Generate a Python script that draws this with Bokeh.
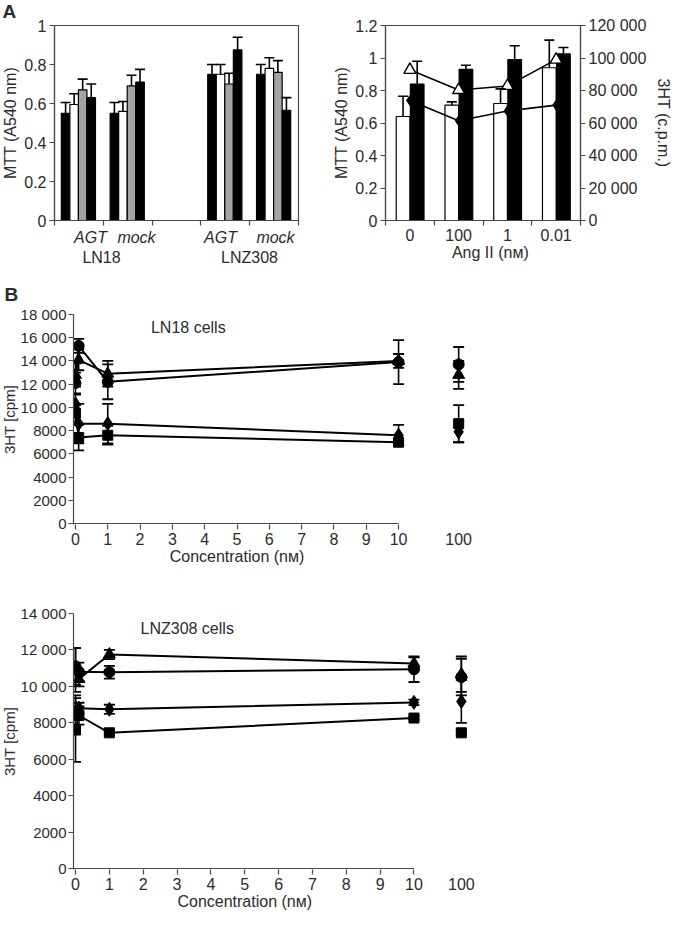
from bokeh.plotting import figure
from bokeh.models import (ColumnDataSource, Range1d, LinearAxis, FixedTicker,
                          Whisker, TeeHead, Title)
from bokeh.layouts import column, row
from bokeh.embed import file_html
from bokeh.resources import INLINE
from bokeh.core.properties import value

FONT = "Liberation Sans"
TXT = "#2b2b2b"
AXC = "#4a4a4a"
FS = "16px"

# ---------------- data: panel A (left) MTT ----------------
a1_groups = ["LN18 AGT", "LN18 mock", "LNZ308 AGT", "LNZ308 mock"]
a1_slot = [0, 1, 3, 4]            # slot index on a 5-slot axis (3rd slot empty)
a1_treat = ["AGT", "mock", "AGT", "mock"]
a1_lines = ["LN18", "LNZ308"]
a1_black1 = [0.55, 0.55, 0.75, 0.75]
a1_black1_err = [0.055, 0.055, 0.05, 0.05]
a1_white = [0.595, 0.56, 0.75, 0.78]
a1_white_err = [0.055, 0.05, 0.05, 0.055]
a1_gray = [0.67, 0.69, 0.70, 0.76]
a1_gray_err = [0.055, 0.055, 0.055, 0.06]
a1_black2 = [0.63, 0.71, 0.875, 0.565]
a1_black2_err = [0.07, 0.065, 0.065, 0.065]
a1_yticks = [0, 0.2, 0.4, 0.6, 0.8, 1.0]

# ---------------- data: panel A (right) Ang II ----------------
a2_ang = ["0", "100", "1", "0.01"]
a2_white = [0.64, 0.71, 0.72, 0.94]
a2_white_err = [0.125, 0.02, 0.09, 0.17]
a2_black = [0.84, 0.93, 0.99, 1.025]
a2_black_err = [0.14, 0.025, 0.085, 0.04]
a2_tri = [92700, 80300, 82800, 99000]
a2_dia = [73900, 61400, 67400, 71000]
a2_lticks = [0, 0.2, 0.4, 0.6, 0.8, 1.0, 1.2]
a2_rticks = [0, 20000, 40000, 60000, 80000, 100000, 120000]

# ---------------- data: panel B ----------------
b_conc = [0, 0.1, 1, 10, 100]
b_xticks = [0, 1, 2, 3, 4, 5, 6, 7, 8, 9, 10]

ln18_circle = [12100, 15300, 12200, 13900, 13700]
ln18_circle_err = [900, 600, 1500, 1900, 1500]
ln18_triangle = [12800, 14100, 12900, 14000, 12800]
ln18_triangle_err = [1000, 900, 1100, 600, 1200]
ln18_diamond = [10300, 8600, 8600, 7600, 7900]
ln18_diamond_err = [800, 1700, 1700, 900, 900]
ln18_square = [9500, 7400, 7600, 7000, 8600]
ln18_square_err = [700, 1100, 800, 200, 1600]
ln18_yticks = [0, 2000, 4000, 6000, 8000, 10000, 12000, 14000, 16000, 18000]

lnz_circle = [11100, 10800, 10780, 10940, 10510]
lnz_circle_err = [1000, 500, 350, 700, 1000]
lnz_triangle = [10900, 10400, 11750, 11260, 10670]
lnz_triangle_err = [1200, 400, 250, 330, 970]
lnz_diamond = [8600, 8800, 8740, 9120, 9170]
lnz_diamond_err = [900, 300, 250, 150, 1180]
lnz_square = [7600, 8400, 7450, 8260, 7450]
lnz_square_err = [1750, 500, 100, 100, 100]
lnz_yticks = [0, 2000, 4000, 6000, 8000, 10000, 12000, 14000]

OX, OY = 0, 2   # page position of the layout origin (negative margin below)


def fmt_num(v):
    if isinstance(v, float) and not v.is_integer():
        return f"{v:g}"
    v = int(v)
    return f"{v:,}".replace(",", " ") if v >= 10000 else str(v)


def style_axis(ax, fs=FS):
    ax.major_label_text_font = FONT
    ax.major_label_text_font_size = fs
    ax.major_label_text_color = TXT
    ax.axis_label_text_font = FONT
    ax.axis_label_text_font_size = fs
    ax.axis_label_text_font_style = "normal"
    ax.axis_label_text_color = TXT
    ax.axis_line_color = AXC
    ax.axis_line_width = 1.2
    ax.major_tick_line_color = AXC
    ax.major_tick_line_width = 1.2
    ax.minor_tick_line_color = AXC
    ax.minor_tick_line_width = 1.2
    ax.major_tick_in = 0
    ax.major_tick_out = 5
    ax.minor_tick_in = 0
    ax.minor_tick_out = 5
    ax.major_label_standoff = 3
    ax.axis_label_standoff = 2


def label_axis(ticks, text):
    ax = LinearAxis(ticker=FixedTicker(ticks=ticks),
                    major_label_overrides={t: s for t, s in zip(ticks, text)})
    style_axis(ax)
    ax.axis_line_color = None
    ax.major_tick_line_color = None
    ax.major_tick_out = 0
    ax.major_label_standoff = 0
    return ax


def base_fig(w, h, xr, yr, bl, br, bt, bb):
    p = figure(width=w, height=h, x_range=xr, y_range=yr, output_backend="svg",
               toolbar_location=None, x_axis_type=None, y_axis_type=None,
               min_border_left=bl, min_border_right=br, min_border_top=bt,
               min_border_bottom=bb)
    p.border_fill_color = "white"
    p.background_fill_color = "white"
    return p


def letter_title(p, text, offset, standoff):
    p.title = Title(text=text, align="left", offset=offset, standoff=standoff,
                    text_font=FONT, text_font_size="19px", text_font_style="bold",
                    text_color=TXT)


# =================== Panel A left ===================
A1_W, A1_H, A1_L, A1_R, A1_T, A1_B = 328, 278, 62, 22, 29, 52
p1 = base_fig(A1_W, A1_H, Range1d(0, 5), Range1d(0, 1), A1_L, A1_R, A1_T, A1_B)
p1.outline_line_color = AXC
p1.outline_line_width = 1.2
a1_fw = A1_W - A1_L - A1_R
a1_px_x = lambda px: (px - (OX + A1_L)) * 5 / a1_fw      # page px -> slot units

yax = LinearAxis(ticker=FixedTicker(ticks=a1_yticks),
                 major_label_overrides={t: fmt_num(t) for t in a1_yticks},
                 axis_label="MTT (A540 nm)")
style_axis(yax)
p1.add_layout(yax, "left")

treat_pos = [a1_px_x(px) for px in (98, 144, 228, 283)]
xax = LinearAxis(ticker=FixedTicker(ticks=treat_pos, minor_ticks=[0, 1, 2, 3, 4, 5]),
                 major_label_overrides={t: s for t, s in zip(treat_pos, a1_treat)})
style_axis(xax)
xax.major_tick_line_color = None
xax.major_label_text_font_style = "italic"
p1.add_layout(xax, "below")
p1.add_layout(label_axis([a1_px_x(px) for px in (109, 257)], a1_lines), "below")

bw = 0.175
series = [(a1_black1, a1_black1_err, "black"), (a1_white, a1_white_err, "white"),
          (a1_gray, a1_gray_err, "#a3a3a3"), (a1_black2, a1_black2_err, "black")]
for k, (vals, errs, col) in enumerate(series):
    xs = [s + 0.5 + (k - 1.5) * bw - 0.01 for s in a1_slot]
    src = ColumnDataSource(dict(x=xs, top=vals, up=[v + e for v, e in zip(vals, errs)]))
    p1.vbar(x="x", top="top", width=bw, source=src, fill_color=col,
            line_color="black", line_width=1.2)
    p1.add_layout(Whisker(source=src, base="x", upper="up", lower="top",
                          dimension="height", line_color="black", line_width=1.6,
                          upper_head=TeeHead(size=10, line_color="black", line_width=1.6),
                          lower_head=None, level="overlay"))
letter_title(p1, "A", -(A1_L - 10), A1_T - 21)

# =================== Panel A right ===================
A2_W, A2_H, A2_L, A2_R, A2_T, A2_B = 355, 278, 65, 90, 24, 52
p2 = base_fig(A2_W, A2_H, Range1d(0, 4), Range1d(0, 1.2), A2_L, A2_R, A2_T, A2_B)
p2.outline_line_color = AXC
p2.outline_line_width = 1.2
p2.extra_y_ranges = {"cpm": Range1d(0, 120000)}

yl = LinearAxis(ticker=FixedTicker(ticks=a2_lticks),
                major_label_overrides={t: fmt_num(t) for t in a2_lticks},
                axis_label="MTT (A540 nm)")
style_axis(yl)
p2.add_layout(yl, "left")
yr = LinearAxis(y_range_name="cpm", ticker=FixedTicker(ticks=a2_rticks),
                major_label_overrides={t: fmt_num(t) for t in a2_rticks},
                axis_label="3HT (c.p.m.)")
style_axis(yr)
yr.axis_label_standoff = 6
p2.add_layout(yr, "right")

cat_c = [i + 0.5 for i in range(len(a2_ang))]
xa = LinearAxis(ticker=FixedTicker(ticks=cat_c, minor_ticks=[0, 1, 2, 3, 4]),
                major_label_overrides={t: s for t, s in zip(cat_c, a2_ang)})
style_axis(xa)
xa.major_tick_line_color = None
p2.add_layout(xa, "below")
p2.add_layout(label_axis([2.15], ["Ang II (n\u1d0d)"]), "below")

for vals, errs, col, off in [(a2_white, a2_white_err, "white", -0.14),
                             (a2_black, a2_black_err, "black", 0.15)]:
    xs = [c + off for c in cat_c]
    src = ColumnDataSource(dict(x=xs, top=vals, up=[v + e for v, e in zip(vals, errs)]))
    p2.vbar(x="x", top="top", width=0.28, source=src, fill_color=col,
            line_color="black", line_width=1.2)
    p2.add_layout(Whisker(source=src, base="x", upper="up", lower="top",
                          dimension="height", line_color="black", line_width=1.6,
                          upper_head=TeeHead(size=10, line_color="black", line_width=1.6),
                          lower_head=None, level="overlay"))

p2.line(cat_c, a2_dia, y_range_name="cpm", line_color="black", line_width=1.6)
p2.scatter(cat_c, a2_dia, y_range_name="cpm", marker="diamond", size=10,
           fill_color="black", line_color="black")
p2.line(cat_c, a2_tri, y_range_name="cpm", line_color="black", line_width=1.6)
p2.scatter(cat_c, a2_tri, y_range_name="cpm", marker="triangle", size=12,
           fill_color="white", line_color="black", line_width=1.4)


# =================== Panel B ===================
def make_b(W, H, L, R, T, B, top_page, ymax, yticks, brk, sets, title, title_px,
           panel_letter):
    x0, x1 = -0.06, 13.0
    fw = W - L - R
    fh = H - T - B
    ystart = -1.0 * ymax / fh          # one pixel below zero so the base line shows
    p = base_fig(W, H, Range1d(x0, x1), Range1d(ystart, ymax), L, R, T, B)
    p.outline_line_color = None
    px_x = lambda px: x0 + (px - (OX + L)) * (x1 - x0) / fw
    px_y = lambda py: ((top_page + T + fh) - py) * (ymax - ystart) / fh + ystart
    pos = lambda c: c if c <= 10 else brk

    ya = LinearAxis(ticker=FixedTicker(ticks=yticks),
                    major_label_overrides={t: fmt_num(t) for t in yticks},
                    axis_label="3HT [cpm]")
    style_axis(ya, "15px")
    ya.major_label_standoff = 2
    ya.axis_label_standoff = 0
    p.add_layout(ya, "left")

    xb = LinearAxis(ticker=FixedTicker(ticks=b_xticks + [brk], minor_ticks=b_xticks),
                    major_label_overrides={brk: str(b_conc[-1])})
    style_axis(xb)
    xb.axis_line_color = None
    xb.major_tick_line_color = None
    p.add_layout(xb, "below")
    p.add_layout(label_axis([5], ["Concentration (n\u1d0d)"]), "below")
    p.line([x0, 10], [0, 0], line_color=AXC, line_width=1.2)

    xs = [pos(c) for c in b_conc]
    n = sum(1 for c in b_conc if c <= 10)
    for vals, errs, marker, size in sets:
        src = ColumnDataSource(dict(x=xs, y=vals,
                                    lo=[v - e for v, e in zip(vals, errs)],
                                    hi=[v + e for v, e in zip(vals, errs)]))
        p.add_layout(Whisker(source=src, base="x", upper="hi", lower="lo",
                             dimension="height", line_color="black", line_width=1.6,
                             upper_head=TeeHead(size=11, line_color="black", line_width=1.8),
                             lower_head=TeeHead(size=11, line_color="black", line_width=1.8)))
        p.line(xs[:n], vals[:n], line_color="black", line_width=2)
        p.scatter("x", "y", source=src, marker=marker, size=size,
                  fill_color="black", line_color="black")

    p.text(x=[px_x(title_px[0])], y=[px_y(title_px[1])], text=[title],
           text_font=value(FONT), text_font_size=value(FS), text_color=TXT,
           text_baseline="middle", text_align="left")
    if panel_letter:
        letter_title(p, panel_letter, -(L - 10), T - 21)
    return p


ln18_sets = [(ln18_circle, ln18_circle_err, "circle", 11),
             (ln18_triangle, ln18_triangle_err, "triangle", 12),
             (ln18_diamond, ln18_diamond_err, "diamond", 14),
             (ln18_square, ln18_square_err, "square", 10)]
lnz_sets = [(lnz_circle, lnz_circle_err, "circle", 11),
            (lnz_triangle, lnz_triangle_err, "triangle", 12),
            (lnz_diamond, lnz_diamond_err, "diamond", 14),
            (lnz_square, lnz_square_err, "square", 10)]

p3 = make_b(528, 305, 79, 24, 40, 53, 280, 18000, ln18_yticks, 11.86, ln18_sets,
            "LN18 cells", (157, 333), "B")
p4 = make_b(548, 338, 81, 25, 36, 46, 585, 14000, lnz_yticks, 11.4, lnz_sets,
            "LNZ308 cells", (148, 636), None)

layout = column(row(p1, p2), p3, p4, margin=(-(8 - OY), 0, 0, -(8 - OX)))
open("out.html", "w").write(file_html(layout, INLINE))
